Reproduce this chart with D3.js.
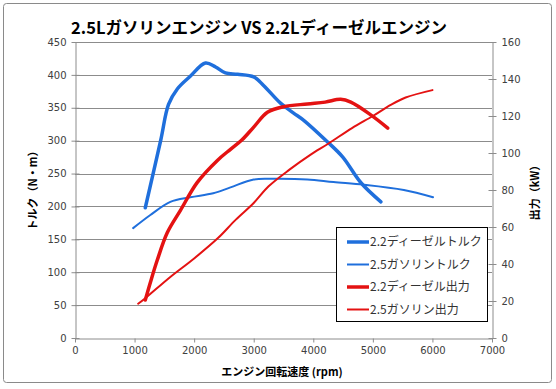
<!DOCTYPE html>
<html>
<head>
<meta charset="utf-8">
<script src="https://cdn.jsdelivr.net/npm/d3@7"></script>
<style>
  body { margin: 0; background: white; }
  text { font-family: "Noto Sans CJK JP", sans-serif; }
</style>
</head>
<body>
<div id="vis"></div>
<script>
// data (rpm, Nm / kW)
const dieselTorqueRpm = [1180, 1440, 1570, 1720, 1935, 2190, 2360, 2525, 2730, 3000, 3165, 3450, 3670, 3840, 4240, 4495, 4800, 5135];
const dieselTorque    = [198, 301, 355, 379, 398, 418, 412, 403, 401, 397, 384, 357, 342, 331, 298, 275, 236, 207];

const petrolTorqueRpm = [976, 1265, 1600, 1935, 2320, 2610, 3000, 3330, 3900, 4340, 4850, 5520, 6010];
const petrolTorque    = [167, 187, 207, 214, 220, 229, 241, 242, 241, 237, 233, 225, 214];

const dieselPowerRpm = [1180, 1265, 1380, 1550, 1770, 2050, 2390, 2610, 2800, 3000, 3230, 3500, 3900, 4200, 4460, 4630, 4970, 5250];
const dieselPower    = [20.5, 30, 42, 57, 69, 84, 96, 102, 107, 114, 122, 125, 126.5, 127.5, 129, 127.5, 120.5, 113.5];

const petrolPowerRpm = [1060, 1180, 1600, 2000, 2400, 2700, 3000, 3250, 3600, 3950, 4250, 4650, 5000, 5300, 5550, 6000];
const petrolPower    = [18.5, 21.5, 33, 43, 54, 64, 73, 82, 91, 99, 105, 113.5, 120, 126, 130, 134];

const xTicks = [0, 1000, 2000, 3000, 4000, 5000, 6000, 7000];
const leftTicks = [0, 50, 100, 150, 200, 250, 300, 350, 400, 450];
const rightTicks = [0, 20, 40, 60, 80, 100, 120, 140, 160];

const seriesNames = ["2.2ディーゼルトルク", "2.5ガソリントルク", "2.2ディーゼル出力", "2.5ガソリン出力"];

// dimensions
let width = 556;
let height = 389;
let margin = { top: 42, bottom: 51, left: 75, right: 64 };

let blue = "#1f6fdc";
let red = "#e41212";
let gridColor = "#8c8c8c";

let svg = d3.select("#vis")
  .append("svg")
  .attr("width", width)
  .attr("height", height)
  .style("background", "white");

// outer frame
svg.append("rect")
  .attr("x", 3.5).attr("y", 3.5)
  .attr("width", 548).attr("height", 379)
  .attr("rx", 3)
  .attr("fill", "white")
  .attr("stroke", "#8a8a8a");

// scales
let xScale = d3.scaleLinear().domain([0, 7000]).range([margin.left, width - margin.right]);
let yLeft = d3.scaleLinear().domain([0, 450]).range([height - margin.bottom, margin.top]);
let yRight = d3.scaleLinear().domain([0, 160]).range([height - margin.bottom, margin.top]);

// gridlines
svg.append("g")
  .selectAll("line")
  .data(leftTicks.slice(1))
  .enter()
  .append("line")
  .attr("x1", margin.left)
  .attr("x2", width - margin.right)
  .attr("y1", d => Math.round(yLeft(d)) + 0.5)
  .attr("y2", d => Math.round(yLeft(d)) + 0.5)
  .attr("stroke", gridColor);

// axes
function styleAxis(g) {
  g.select(".domain").attr("stroke", gridColor);
  g.selectAll(".tick line").attr("stroke", gridColor);
  g.selectAll(".tick text")
    .attr("fill", "#404040")
    .style("font-family", "DejaVu Sans, sans-serif")
    .style("font-size", "10px");
}

let xAxis = svg.append("g")
  .attr("transform", `translate(0, ${height - margin.bottom + 0.5})`)
  .call(d3.axisBottom(xScale).tickValues(xTicks).tickSize(4).tickSizeOuter(0).tickFormat(d3.format("d")).tickPadding(4))
  .call(styleAxis);

let yAxis = svg.append("g")
  .attr("transform", `translate(${margin.left + 0.5}, 0)`)
  .call(d3.axisLeft(yLeft).tickValues(leftTicks).tickSize(4).tickSizeOuter(0).tickPadding(5))
  .call(styleAxis);
yAxis.selectAll(".tick line").attr("x1", 4);

let yAxis2 = svg.append("g")
  .attr("transform", `translate(${width - margin.right + 0.5}, 0)`)
  .call(d3.axisRight(yRight).tickValues(rightTicks).tickSize(4).tickSizeOuter(0).tickPadding(5))
  .call(styleAxis);
yAxis2.selectAll(".tick line").attr("x1", -4);

// titles
svg.append("text")
  .attr("x", 259)
  .attr("y", 34)
  .attr("text-anchor", "middle")
  .style("font-size", "16.5px")
  .style("font-weight", "bold")
  .text("2.5Lガソリンエンジン VS 2.2Lディーゼルエンジン");

svg.append("text")
  .attr("transform", "translate(37, 188) rotate(-90)")
  .attr("text-anchor", "middle")
  .style("font-size", "11px")
  .style("font-weight", "bold")
  .text("トルク（N・m）");

svg.append("text")
  .attr("transform", "translate(539, 190) rotate(-90)")
  .attr("text-anchor", "middle")
  .style("font-size", "11px")
  .style("font-weight", "bold")
  .text("出力（kW）");

svg.append("text")
  .attr("x", 282)
  .attr("y", 376)
  .attr("text-anchor", "middle")
  .style("font-size", "11px")
  .style("font-weight", "bold")
  .text("エンジン回転速度 (rpm)");

// lines
let series = [
  { rpm: dieselTorqueRpm, vals: dieselTorque, y: yLeft, color: blue, w: 3.5 },
  { rpm: petrolTorqueRpm, vals: petrolTorque, y: yLeft, color: blue, w: 2 },
  { rpm: dieselPowerRpm, vals: dieselPower, y: yRight, color: red, w: 3.5 },
  { rpm: petrolPowerRpm, vals: petrolPower, y: yRight, color: red, w: 2 }
];

series.forEach(function(s) {
  let line = d3.line()
    .x((d, i) => xScale(s.rpm[i]))
    .y(d => s.y(d))
    .curve(d3.curveCatmullRom.alpha(0.5));
  svg.append("path")
    .datum(s.vals)
    .attr("d", line)
    .attr("fill", "none")
    .attr("stroke", s.color)
    .attr("stroke-width", s.w)
    .attr("stroke-linejoin", "round")
    .attr("stroke-linecap", "round");
});

// legend
let legend = svg.append("g");
legend.append("rect")
  .attr("x", 336.5).attr("y", 227.5)
  .attr("width", 151).attr("height", 94)
  .attr("fill", "white")
  .attr("stroke", "black");

let rows = legend.selectAll("g.row")
  .data(series)
  .enter()
  .append("g")
  .attr("transform", (d, i) => `translate(0, ${242 + i * 22.5})`);

rows.append("line")
  .attr("x1", 347).attr("x2", 369)
  .attr("stroke", d => d.color)
  .attr("stroke-width", d => d.w);

rows.append("text")
  .attr("x", 370)
  .attr("y", 4)
  .attr("fill", "#333")
  .style("font-size", "12px")
  .text((d, i) => seriesNames[i]);
</script>
</body>
</html>
